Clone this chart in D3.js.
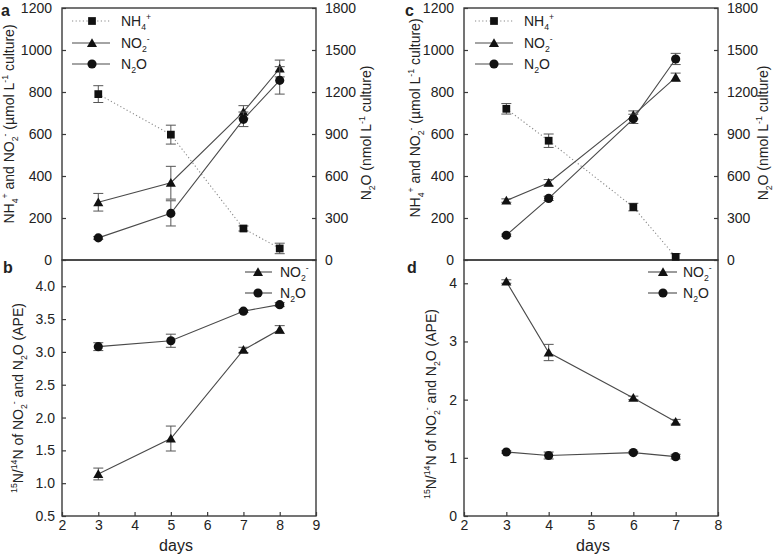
<!DOCTYPE html>
<html>
<head>
<meta charset="utf-8">
<script src="https://cdn.jsdelivr.net/npm/d3@7"></script>
<style>
  body { margin: 0; background: #fff; }
  svg text { font-family: "Liberation Sans", Arial, sans-serif; fill: #222; }
</style>
</head>
<body>
<svg id="chart"></svg>
<script>
// experiment 1 (panels a, b)
const daysA = [3, 5, 7, 8];
const nh4A = [790, 597, 150, 55];
const nh4AErr = [40, 45, 12, 25];
const no2A = [275, 368, 705, 912];
const no2AErr = [42, 78, 30, 40];
const n2oA = [158, 333, 1005, 1283];
const n2oAErr = [10, 90, 52, 98];
const apeNo2B = [1.14, 1.68, 3.03, 3.34];
const apeNo2BErr = [0.09, 0.19, 0.04, 0.06];
const apeN2oB = [3.08, 3.17, 3.62, 3.72];
const apeN2oBErr = [0.06, 0.1, 0.02, 0.03];

// experiment 2 (panels c, d)
const daysC = [3, 4, 6, 7];
const nh4C = [720, 568, 252, 15];
const nh4CErr = [25, 32, 18, 15];
const no2C = [283, 368, 690, 870];
const no2CErr = [8, 15, 20, 20];
const n2oC = [177, 440, 1008, 1436];
const n2oCErr = [8, 15, 33, 40];
const apeNo2D = [4.03, 2.81, 2.03, 1.62];
const apeNo2DErr = [0.03, 0.14, 0.03, 0.04];
const apeN2oD = [1.1, 1.04, 1.09, 1.02];
const apeN2oDErr = [0.02, 0.06, 0.02, 0.04];

const ticksConc = [0, 200, 400, 600, 800, 1000, 1200];
const ticksN2o = [0, 300, 600, 900, 1200, 1500, 1800];
const ticksApeB = [0.5, 1.0, 1.5, 2.0, 2.5, 3.0, 3.5, 4.0];
const ticksApeD = [0, 1, 2, 3, 4];
const ticksDaysB = [2, 3, 4, 5, 6, 7, 8, 9];
const ticksDaysD = [2, 3, 4, 5, 6, 7, 8];

const width = 776;
const height = 555;
const lineColor = "#4a4a4a";
const markColor = "#111";
const frameColor = "#3a3a3a";

const svg = d3.select("#chart").attr("width", width).attr("height", height);

// text with sub/superscripts: parts = [[text, ""|"sub"|"sup"], ...]
const rich = (sel, parts, fs) => {
  let off = 0;
  parts.forEach(([t, kind]) => {
    const target = kind === "sub" ? 0.32 * fs : kind === "sup" ? -0.42 * fs : 0;
    sel.append("tspan")
      .attr("dy", target - off)
      .attr("font-size", kind ? fs * 0.62 : fs)
      .text(t);
    off = target;
  });
};

const symbols = {
  nh4: d3.symbol().type(d3.symbolSquare).size(60),
  no2: d3.symbol().type(d3.symbolTriangle).size(44),
  n2o: d3.symbol().type(d3.symbolCircle).size(66),
};

const drawSeries = (g, x, y, days, vals, errs, kind, dotted) => {
  const pts = days.map((d, i) => ({ d: d, v: vals[i], e: errs[i] }));
  const line = d3.line().x((p) => x(p.d)).y((p) => y(p.v));
  g.append("path")
    .datum(pts)
    .attr("d", line)
    .attr("fill", "none")
    .attr("stroke", dotted ? "#8a8a8a" : lineColor)
    .attr("stroke-width", 1.1)
    .attr("stroke-dasharray", dotted ? "1.2,2.4" : null);

  const eb = g.append("g").attr("stroke", "#555").attr("stroke-width", 1);
  pts.forEach((p) => {
    const y1 = y(p.v - p.e);
    const y2 = y(p.v + p.e);
    const cx = x(p.d);
    eb.append("line").attr("x1", cx).attr("x2", cx).attr("y1", y1).attr("y2", y2);
    eb.append("line").attr("x1", cx - 5).attr("x2", cx + 5).attr("y1", y1).attr("y2", y1);
    eb.append("line").attr("x1", cx - 5).attr("x2", cx + 5).attr("y1", y2).attr("y2", y2);
  });

  g.selectAll(null)
    .data(pts)
    .enter()
    .append("path")
    .attr("d", symbols[kind])
    .attr("transform", (p) => "translate(" + x(p.d) + "," + (y(p.v) + (kind === "no2" ? 1 : 0)) + ")")
    .attr("fill", markColor);
};

const styleAxis = (g) => {
  g.select(".domain").remove();
  g.selectAll(".tick line").attr("stroke", frameColor).attr("stroke-width", 1.2);
  g.selectAll(".tick text").attr("font-size", 14).attr("fill", "#222")
    .style("font-family", "'Liberation Sans', Arial, sans-serif");
};

const frame = (x0, y0, x1, y1) => {
  svg.append("rect")
    .attr("x", x0).attr("y", y0)
    .attr("width", x1 - x0).attr("height", y1 - y0)
    .attr("fill", "none")
    .attr("stroke", frameColor)
    .attr("stroke-width", 1.4);
};

const legendRow = (lx0, lx1, mx, tx, y, kind, dotted, parts) => {
  svg.append("line")
    .attr("x1", lx0).attr("x2", lx1).attr("y1", y).attr("y2", y)
    .attr("stroke", dotted ? "#8a8a8a" : lineColor)
    .attr("stroke-width", 1.1)
    .attr("stroke-dasharray", dotted ? "1.2,2.4" : null);
  svg.append("path")
    .attr("d", symbols[kind])
    .attr("transform", "translate(" + mx + "," + (y + (kind === "no2" ? 1 : 0)) + ")")
    .attr("fill", markColor);
  const t = svg.append("text").attr("x", tx).attr("y", y + 5).attr("font-size", 14);
  rich(t, parts, 14);
};

const labNh4 = [["NH", ""], ["4", "sub"], ["+", "sup"]];
const labNo2 = [["NO", ""], ["2", "sub"], ["-", "sup"]];
const labN2o = [["N", ""], ["2", "sub"], ["O", ""]];

const concTitle = [["NH", ""], ["4", "sub"], ["+", "sup"], [" and NO", ""], ["2", "sub"], ["-", "sup"],
  [" (µmol L", ""], ["-1", "sup"], [" culture)", ""]];
const n2oTitle = [["N", ""], ["2", "sub"], ["O (nmol L", ""], ["-1", "sup"], [" culture)", ""]];
const apeTitle = [["15", "sup"], ["N/", ""], ["14", "sup"], ["N of NO", ""], ["2", "sub"], ["-", "sup"],
  [" and N", ""], ["2", "sub"], ["O (APE)", ""]];

const rotTitle = (x, y, parts, fs) => {
  const t = svg.append("text")
    .attr("transform", "translate(" + x + "," + y + ") rotate(-90)")
    .attr("text-anchor", "middle")
    .attr("font-size", fs);
  rich(t, parts, fs);
};

const panelLetter = (x, y, s) => {
  svg.append("text").attr("x", x).attr("y", y)
    .attr("font-size", 16).attr("font-weight", "bold").attr("fill", "#111").text(s);
};

const drawExperiment = (cfg) => {
  const top = 8, mid = 260, bot = 516;
  const x = d3.scaleLinear().domain(cfg.xDomain).range([cfg.left, cfg.right]);
  const yL = d3.scaleLinear().domain([0, 1200]).range([mid, top]);
  const yR = d3.scaleLinear().domain([0, 1800]).range([mid, top]);
  const yB = d3.scaleLinear().domain(cfg.apeDomain).range([bot, mid]);

  frame(cfg.left, top, cfg.right, mid);
  frame(cfg.left, mid, cfg.right, bot);

  svg.append("g")
    .attr("transform", "translate(" + cfg.left + ",0)")
    .call(d3.axisLeft(yL).tickValues(ticksConc).tickFormat(d3.format("d"))
      .tickSizeInner(-4).tickSizeOuter(0).tickPadding(10))
    .call(styleAxis);
  svg.append("g")
    .attr("transform", "translate(" + cfg.right + ",0)")
    .call(d3.axisRight(yR).tickValues(ticksN2o).tickFormat(d3.format("d"))
      .tickSizeInner(-4).tickSizeOuter(0).tickPadding(9))
    .call(styleAxis);
  svg.append("g")
    .attr("transform", "translate(" + cfg.left + ",0)")
    .call(d3.axisLeft(yB).tickValues(cfg.apeTicks).tickFormat(cfg.apeFormat)
      .tickSizeInner(-4).tickSizeOuter(0).tickPadding(7))
    .call(styleAxis);
  svg.append("g")
    .attr("transform", "translate(0," + bot + ")")
    .call(d3.axisBottom(x).tickValues(cfg.dayTicks).tickFormat(d3.format("d"))
      .tickSizeInner(-4).tickSizeOuter(0).tickPadding(4))
    .call(styleAxis);

  const gTop = svg.append("g");
  drawSeries(gTop, x, yL, cfg.days, cfg.nh4, cfg.nh4Err, "nh4", true);
  drawSeries(gTop, x, yL, cfg.days, cfg.no2, cfg.no2Err, "no2", false);
  drawSeries(gTop, x, yR, cfg.days, cfg.n2o, cfg.n2oErr, "n2o", false);

  const gBot = svg.append("g");
  drawSeries(gBot, x, yB, cfg.days, cfg.apeNo2, cfg.apeNo2Err, "no2", false);
  drawSeries(gBot, x, yB, cfg.days, cfg.apeN2o, cfg.apeN2oErr, "n2o", false);

  const lg = cfg.legTop;
  legendRow(lg[0], lg[1], lg[2], lg[3], 21, "nh4", true, labNh4);
  legendRow(lg[0], lg[1], lg[2], lg[3], 43, "no2", false, labNo2);
  legendRow(lg[0], lg[1], lg[2], lg[3], 64, "n2o", false, labN2o);
  const lb = cfg.legBot;
  legendRow(lb[0], lb[1], lb[2], lb[3], 272, "no2", false, labNo2);
  legendRow(lb[0], lb[1], lb[2], lb[3], 293, "n2o", false, labN2o);

  rotTitle(cfg.leftTitleX, cfg.leftTitleY, concTitle, 14);
  rotTitle(cfg.rightTitleX, 133, n2oTitle, 14);
  rotTitle(cfg.apeTitleX, cfg.apeTitleY, apeTitle, 14);

  svg.append("text").attr("x", cfg.daysX).attr("y", 551)
    .attr("text-anchor", "middle").attr("font-size", 16).text("days");

  panelLetter(cfg.letterX, 16, cfg.letters[0]);
  panelLetter(cfg.letterX + 2, 273, cfg.letters[1]);
};

drawExperiment({
  left: 62, right: 316, xDomain: [2, 9], dayTicks: ticksDaysB,
  days: daysA,
  nh4: nh4A, nh4Err: nh4AErr, no2: no2A, no2Err: no2AErr, n2o: n2oA, n2oErr: n2oAErr,
  apeNo2: apeNo2B, apeNo2Err: apeNo2BErr, apeN2o: apeN2oB, apeN2oErr: apeN2oBErr,
  apeDomain: [0.5, 4.4], apeTicks: ticksApeB, apeFormat: d3.format(".1f"),
  legTop: [72, 110, 92, 121], legBot: [245, 272, 258, 280],
  leftTitleX: 14, leftTitleY: 124, rightTitleX: 371, apeTitleX: 23, apeTitleY: 398,
  daysX: 176, letterX: 1, letters: ["a", "b"],
});

drawExperiment({
  left: 464, right: 718, xDomain: [2, 8], dayTicks: ticksDaysD,
  days: daysC,
  nh4: nh4C, nh4Err: nh4CErr, no2: no2C, no2Err: no2CErr, n2o: n2oC, n2oErr: n2oCErr,
  apeNo2: apeNo2D, apeNo2Err: apeNo2DErr, apeN2o: apeN2oD, apeN2oErr: apeN2oDErr,
  apeDomain: [0, 4.4], apeTicks: ticksApeD, apeFormat: d3.format("d"),
  legTop: [475, 513, 494, 524], legBot: [648, 677, 663, 683],
  leftTitleX: 420, leftTitleY: 118, rightTitleX: 768, apeTitleX: 436, apeTitleY: 404,
  daysX: 593, letterX: 405, letters: ["c", "d"],
});
</script>
</body>
</html>
